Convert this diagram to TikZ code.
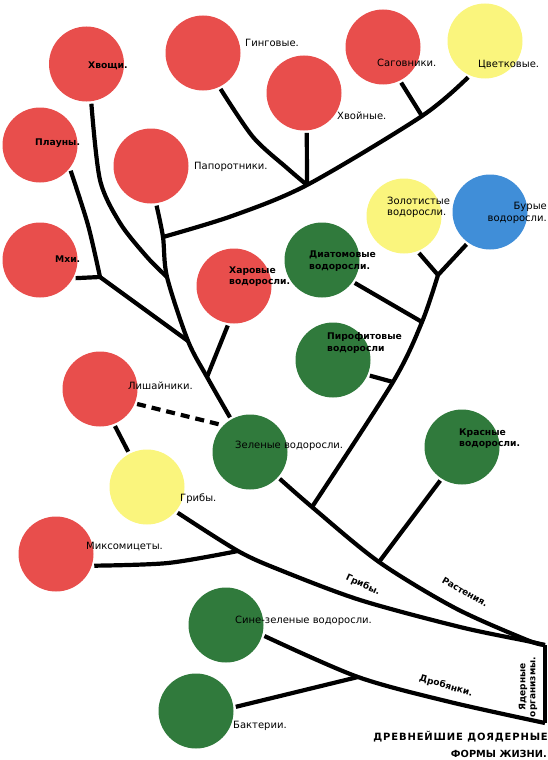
\documentclass[tikz,border=0pt]{standalone}
\usepackage{fontspec}
\setmainfont{DejaVu Sans}
\definecolor{cred}{RGB}{232,78,76}
\definecolor{cyel}{RGB}{250,245,125}
\definecolor{cgrn}{RGB}{48,122,60}
\definecolor{cblu}{RGB}{64,142,216}
\tikzset{
  bub/.style={circle, minimum size=75pt, inner sep=0pt, outer sep=2.5pt},
  rbub/.style={bub, fill=cred},
  ybub/.style={bub, fill=cyel},
  gbub/.style={bub, fill=cgrn},
  bbub/.style={bub, fill=cblu},
  lbl/.style={anchor=west, inner sep=0pt, align=left, font=\fontsize{10}{11.5}\selectfont},
  blbl/.style={lbl, font=\bfseries\fontsize{9.2}{11.5}\selectfont},
  branch/.style={line width=4.2pt},
  pathlbl/.style={inner sep=0pt, font=\bfseries\fontsize{9}{10}\selectfont},
}
\begin{document}
\begin{tikzpicture}[x=1pt,y=-1pt]
\useasboundingbox (0,0) rectangle (548,760);
% circles
\node[rbub] (hvos)  at (86.5,64) {};
\node[rbub] (plaun) at (40,145) {};
\node[rbub] (ging)  at (203,53) {};
\node[rbub] (papor) at (151,166) {};
\node[rbub] (hvoin) at (304,93) {};
\node[rbub] (sagov) at (383,47) {};
\node[ybub] (cvet)  at (485,41) {};
\node[ybub] (zolot) at (404,216) {};
\node[bbub] (bur)   at (490,212) {};
\node[gbub] (diat)  at (322,260) {};
\node[gbub] (piro)  at (333,360) {};
\node[rbub] (harov) at (234,286) {};
\node[rbub] (mhi)   at (40,260) {};
\node[gbub] (zel)   at (250,452) {};
\node[rbub] (lish)  at (100,389) {};
\node[ybub] (grib)  at (147,487) {};
\node[rbub] (miks)  at (56,554) {};
\node[gbub] (krasn) at (462,447) {};
\node[gbub] (sine)  at (226,625) {};
\node[gbub] (bakt)  at (196,711) {};
% junctions
\coordinate (rT) at (545,645);
\coordinate (rB) at (545,723);
\coordinate (jR1) at (312,507);
\coordinate (jR2) at (379,562);
\coordinate (jG) at (238,551);
\coordinate (jB) at (358,677);
\coordinate (jP) at (393,382);
\coordinate (jD) at (422,322);
\coordinate (jF) at (438,275);
\coordinate (jH) at (207,377);
\coordinate (jM) at (188,341);
\coordinate (jMP) at (100,277);
\coordinate (jX) at (167,277);
\coordinate (jPap) at (163,237);
\coordinate (jHv) at (307,185);
\coordinate (jS) at (422,116);
% branches
\draw[branch] (rT) -- (rB);
\draw[branch] plot[smooth] coordinates {(zel.-42) (jR1) (jR2) (455,608) (527,640) (rT)};
\draw[branch] plot[smooth] coordinates {(grib.-40) (jG) (280,570) (360,600) (460,627) (527,641) (rT)};
\draw[branch] plot[smooth] coordinates {(sine.-16) (jB) (450,702) (rB)};
\draw[branch] (bakt.6) -- (jB);
\draw[branch] plot[smooth] coordinates {(miks.-17) (168,563) (jG)};
\draw[branch] (jR2) -- (krasn.-123);
\draw[branch] plot[smooth] coordinates {(jR1) (jP) (jD) (jF)};
\draw[branch] (jF) -- (zolot.-68);
\draw[branch] (jF) -- (bur.-126);
\draw[branch] (jD) -- (diat.-35);
\draw[branch] (jP) -- (piro.-23);
\draw[branch] plot[smooth] coordinates {(zel.120) (jH) (jM) (jX) (jPap) (papor.-82)};
\draw[branch] (jH) -- (harov.-99);
\draw[branch] (jM) -- (jMP);
\draw[branch] (mhi.-27) -- (jMP);
\draw[branch] plot[smooth] coordinates {(plaun.-40) (88,225) (jMP)};
\draw[branch] plot[smooth] coordinates {(hvos.-83) (100,180) (120,223) (147,257) (jX)};
\draw[branch] plot[smooth] coordinates {(jPap) (232,216) (jHv) (jS) (cvet.-115)};
\draw[branch] plot[smooth] coordinates {(ging.-64) (253,137) (287,168) (jHv)};
\draw[branch] (hvoin.-86) -- (jHv);
\draw[branch] (sagov.-63) -- (jS);
\draw[branch, dash pattern=on 9pt off 6pt] (lish.-22) -- (zel.137);
\draw[branch] (lish.-68) -- (grib.118);
% labels
\node[blbl] (tHvos) at (88,66) {Хвощи.};
\node[blbl] (tPlaun) at (35,143) {Плауны.};
\node[lbl] (tGing) at (245,43) {Гинговые.};
\node[lbl] (tPapor) at (194,167) {Папоротники.};
\node[lbl] (tHvoin) at (337,116) {Хвойные.};
\node[lbl] (tSagov) at (377,63) {Саговники.};
\node[lbl] (tCvet) at (478,65) {Цветковые.};
\node[lbl] (tZolot) at (387,207.5) {Золотистые\\водоросли.};
\node[lbl, anchor=east, align=right] (tBur) at (547,213) {Бурые\\водоросли.};
\node[blbl] (tDiat) at (309,261) {Диатомовые\\водоросли.};
\node[blbl] (tPiro) at (327,343) {Пирофитовые\\водоросли};
\node[blbl] (tHarov) at (229,276.5) {Харовые\\водоросли.};
\node[blbl] (tMhi) at (55,259) {Мхи.};
\node[lbl] (tLish) at (128,386) {Лишайники.};
\node[lbl] (tZel) at (235,446) {Зеленые водоросли.};
\node[lbl] (tGrib) at (180,499) {Грибы.};
\node[lbl] (tMiks) at (86,547) {Миксомицеты.};
\node[blbl] (tKrasn) at (459,438.5) {Красные\\водоросли.};
\node[lbl] (tSine) at (235,621) {Сине-зеленые водоросли.};
\node[lbl] (tBakt) at (233,726) {Бактерии.};
\node[pathlbl, rotate=-25] (pGrib) at (363,585) {Грибы.};
\node[pathlbl, rotate=-30] (pRast) at (465,592) {Растения.};
\node[pathlbl, rotate=-16] (pDrob) at (446,686) {Дробянки.};
\node[pathlbl, rotate=90, align=center] (pYad) at (528,687) {Ядерные\\организмы.};
\node[anchor=east, inner sep=0pt, font=\bfseries\fontsize{10}{12}\selectfont\addfontfeature{LetterSpace=8.5}] (tDrev1) at (548,737) {ДРЕВНЕЙШИЕ ДОЯДЕРНЫЕ};
\node[anchor=east, inner sep=0pt, font=\bfseries\fontsize{9.8}{12}\selectfont] (tDrev2) at (547,754) {ФОРМЫ ЖИЗНИ.};
\end{tikzpicture}
\end{document}
